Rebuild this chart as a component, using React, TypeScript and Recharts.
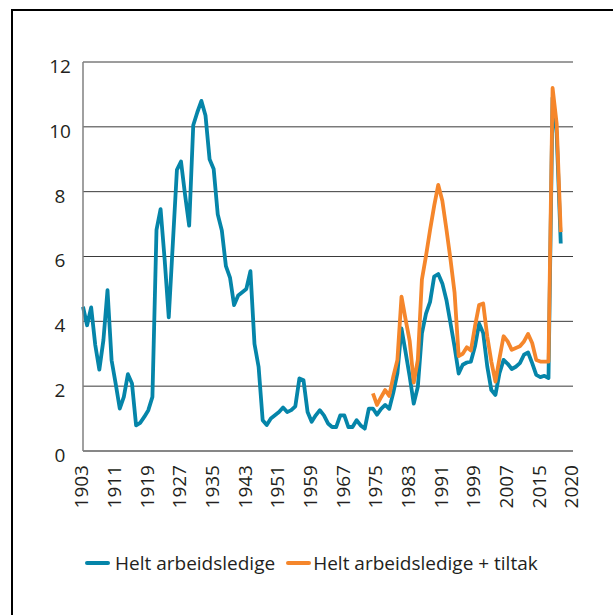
import { LineChart, Line, XAxis, YAxis, CartesianGrid } from 'recharts';

const START_YEAR = 1903;
const TILTAK_START = 1974;

// Helt arbeidsledige, 1903-2020 (prosent)
const HELT_LEDIGE = [
  4.45, 3.88, 4.43, 3.27, 2.51, 3.42, 4.96, 2.8, 2.08, 1.31,
  1.67, 2.37, 2.08, 0.79, 0.87, 1.05, 1.26, 1.67, 6.82, 7.46,
  5.9, 4.12, 6.4, 8.67, 8.93, 7.9, 6.95, 10.05, 10.45, 10.8,
  10.35, 9.0, 8.7, 7.3, 6.8, 5.7, 5.35, 4.5, 4.8, 4.9,
  5.0, 5.55, 3.3, 2.6, 0.95, 0.8, 1.0, 1.1, 1.2, 1.34,
  1.2, 1.26, 1.38, 2.24, 2.18, 1.2, 0.9, 1.1, 1.26, 1.1,
  0.85, 0.74, 0.74, 1.1, 1.1, 0.74, 0.74, 0.95, 0.79, 0.69,
  1.31, 1.31, 1.12, 1.3, 1.42, 1.3, 1.8, 2.4, 3.78, 3.05,
  2.3, 1.46, 1.98, 3.63, 4.24, 4.6, 5.38, 5.46, 5.17, 4.66,
  3.94, 3.21, 2.39, 2.66, 2.73, 2.76, 3.23, 3.93, 3.64, 2.61,
  1.88, 1.73, 2.4, 2.81, 2.69, 2.53, 2.6, 2.71, 2.97, 3.04,
  2.71, 2.35, 2.28, 2.32, 2.25, 10.9, 9.8, 6.4,
];

// Helt arbeidsledige + tiltak, 1974-2020
const MED_TILTAK = [
  1.78, 1.42, 1.66, 1.88, 1.7, 2.3, 2.81, 4.76, 4.06, 3.4,
  2.11, 2.81, 5.29, 6.02, 6.82, 7.56, 8.21, 7.72, 6.84, 5.91,
  4.88, 2.93, 3.0, 3.2, 3.1, 3.85, 4.5, 4.55, 3.54, 2.76,
  2.14, 2.86, 3.54, 3.38, 3.12, 3.18, 3.23, 3.38, 3.61, 3.33,
  2.81, 2.76, 2.76, 2.76, 11.2, 10.1, 6.75,
];

const X_TICKS = [1903, 1911, 1919, 1927, 1935, 1943, 1951, 1959, 1967, 1975, 1983, 1991, 1999, 2007, 2015, 2023];
const X_LABELS = ['1903', '1911', '1919', '1927', '1935', '1943', '1951', '1959', '1967', '1975', '1983', '1991', '1999', '2007', '2015', '2020'];
const Y_TICKS = [0, 2, 4, 6, 8, 10, 12];

const BLUE = '#0585a9';
const ORANGE = '#f5862b';
const TEXT = '#231f20';
const FONT = '"Open Sans", sans-serif';

const data = HELT_LEDIGE.map((v, i) => {
  const year = START_YEAR + i;
  const t = year >= TILTAK_START ? MED_TILTAK[year - TILTAK_START] : null;
  return { year, ledige: v, tiltak: t ?? null };
});

function XTick(props: any) {
  const { x, y, payload } = props;
  const idx = X_TICKS.indexOf(payload.value);
  return (
    <text
      x={x}
      y={y + 14}
      dy="0.28em"
      transform={`rotate(-90, ${x}, ${y + 14})`}
      textAnchor="end"
      fill={TEXT}
      fontSize={19}
      fontFamily={FONT}
    >
      {X_LABELS[idx]}
    </text>
  );
}

function YTick(props: any) {
  const { x, y, payload } = props;
  return (
    <text x={x - 23} y={y + 4} dy="0.36em" textAnchor="middle" fill={TEXT} fontSize={19} fontFamily={FONT}>
      {payload.value}
    </text>
  );
}

export default function App() {
  return (
    <div style={{ position: 'absolute', left: 0, top: 0, width: 613, height: 615, background: '#fff', overflow: 'hidden' }}>
      <div
        style={{
          position: 'absolute',
          left: 11,
          top: 9,
          width: 700,
          height: 700,
          borderLeft: '2px solid #000',
          borderTop: '2px solid #000',
        }}
      />
      <LineChart width={613} height={615} data={data} margin={{ top: 62, right: 40, left: 0, bottom: 0 }}>
        <CartesianGrid vertical={false} stroke="#3a3a3a" strokeWidth={1} />
        <XAxis
          dataKey="year"
          type="number"
          domain={[1903, 2023]}
          ticks={X_TICKS}
          interval={0}
          tickLine={false}
          tickSize={0}
          tickMargin={0}
          height={164}
          axisLine={{ stroke: '#808080', strokeWidth: 1.5 }}
          tick={<XTick />}
        />
        <YAxis
          domain={[0, 12]}
          ticks={Y_TICKS}
          width={83}
          tickLine={false}
          tickSize={0}
          tickMargin={0}
          axisLine={{ stroke: '#808080', strokeWidth: 1.5 }}
          tick={<YTick />}
        />
        <Line
          dataKey="ledige"
          name="Helt arbeidsledige"
          stroke={BLUE}
          strokeWidth={3.8}
          dot={false}
          type="linear"
          strokeLinejoin="round"
          isAnimationActive={false}
        />
        <Line
          dataKey="tiltak"
          name="Helt arbeidsledige + tiltak"
          stroke={ORANGE}
          strokeWidth={3.8}
          dot={false}
          type="linear"
          strokeLinejoin="round"
          isAnimationActive={false}
        />
      </LineChart>
      <div
        style={{
          position: 'absolute',
          left: 85,
          top: 550,
          display: 'flex',
          alignItems: 'center',
          fontFamily: FONT,
          fontSize: 19,
          color: TEXT,
          whiteSpace: 'nowrap',
        }}
      >
        <span style={{ display: 'inline-block', width: 25, height: 4, borderRadius: 2, background: BLUE }} />
        <span style={{ marginLeft: 5 }}>Helt arbeidsledige</span>
        <span style={{ display: 'inline-block', width: 25, height: 4, borderRadius: 2, background: ORANGE, marginLeft: 11 }} />
        <span style={{ marginLeft: 2 }}>Helt arbeidsledige + tiltak</span>
      </div>
    </div>
  );
}
